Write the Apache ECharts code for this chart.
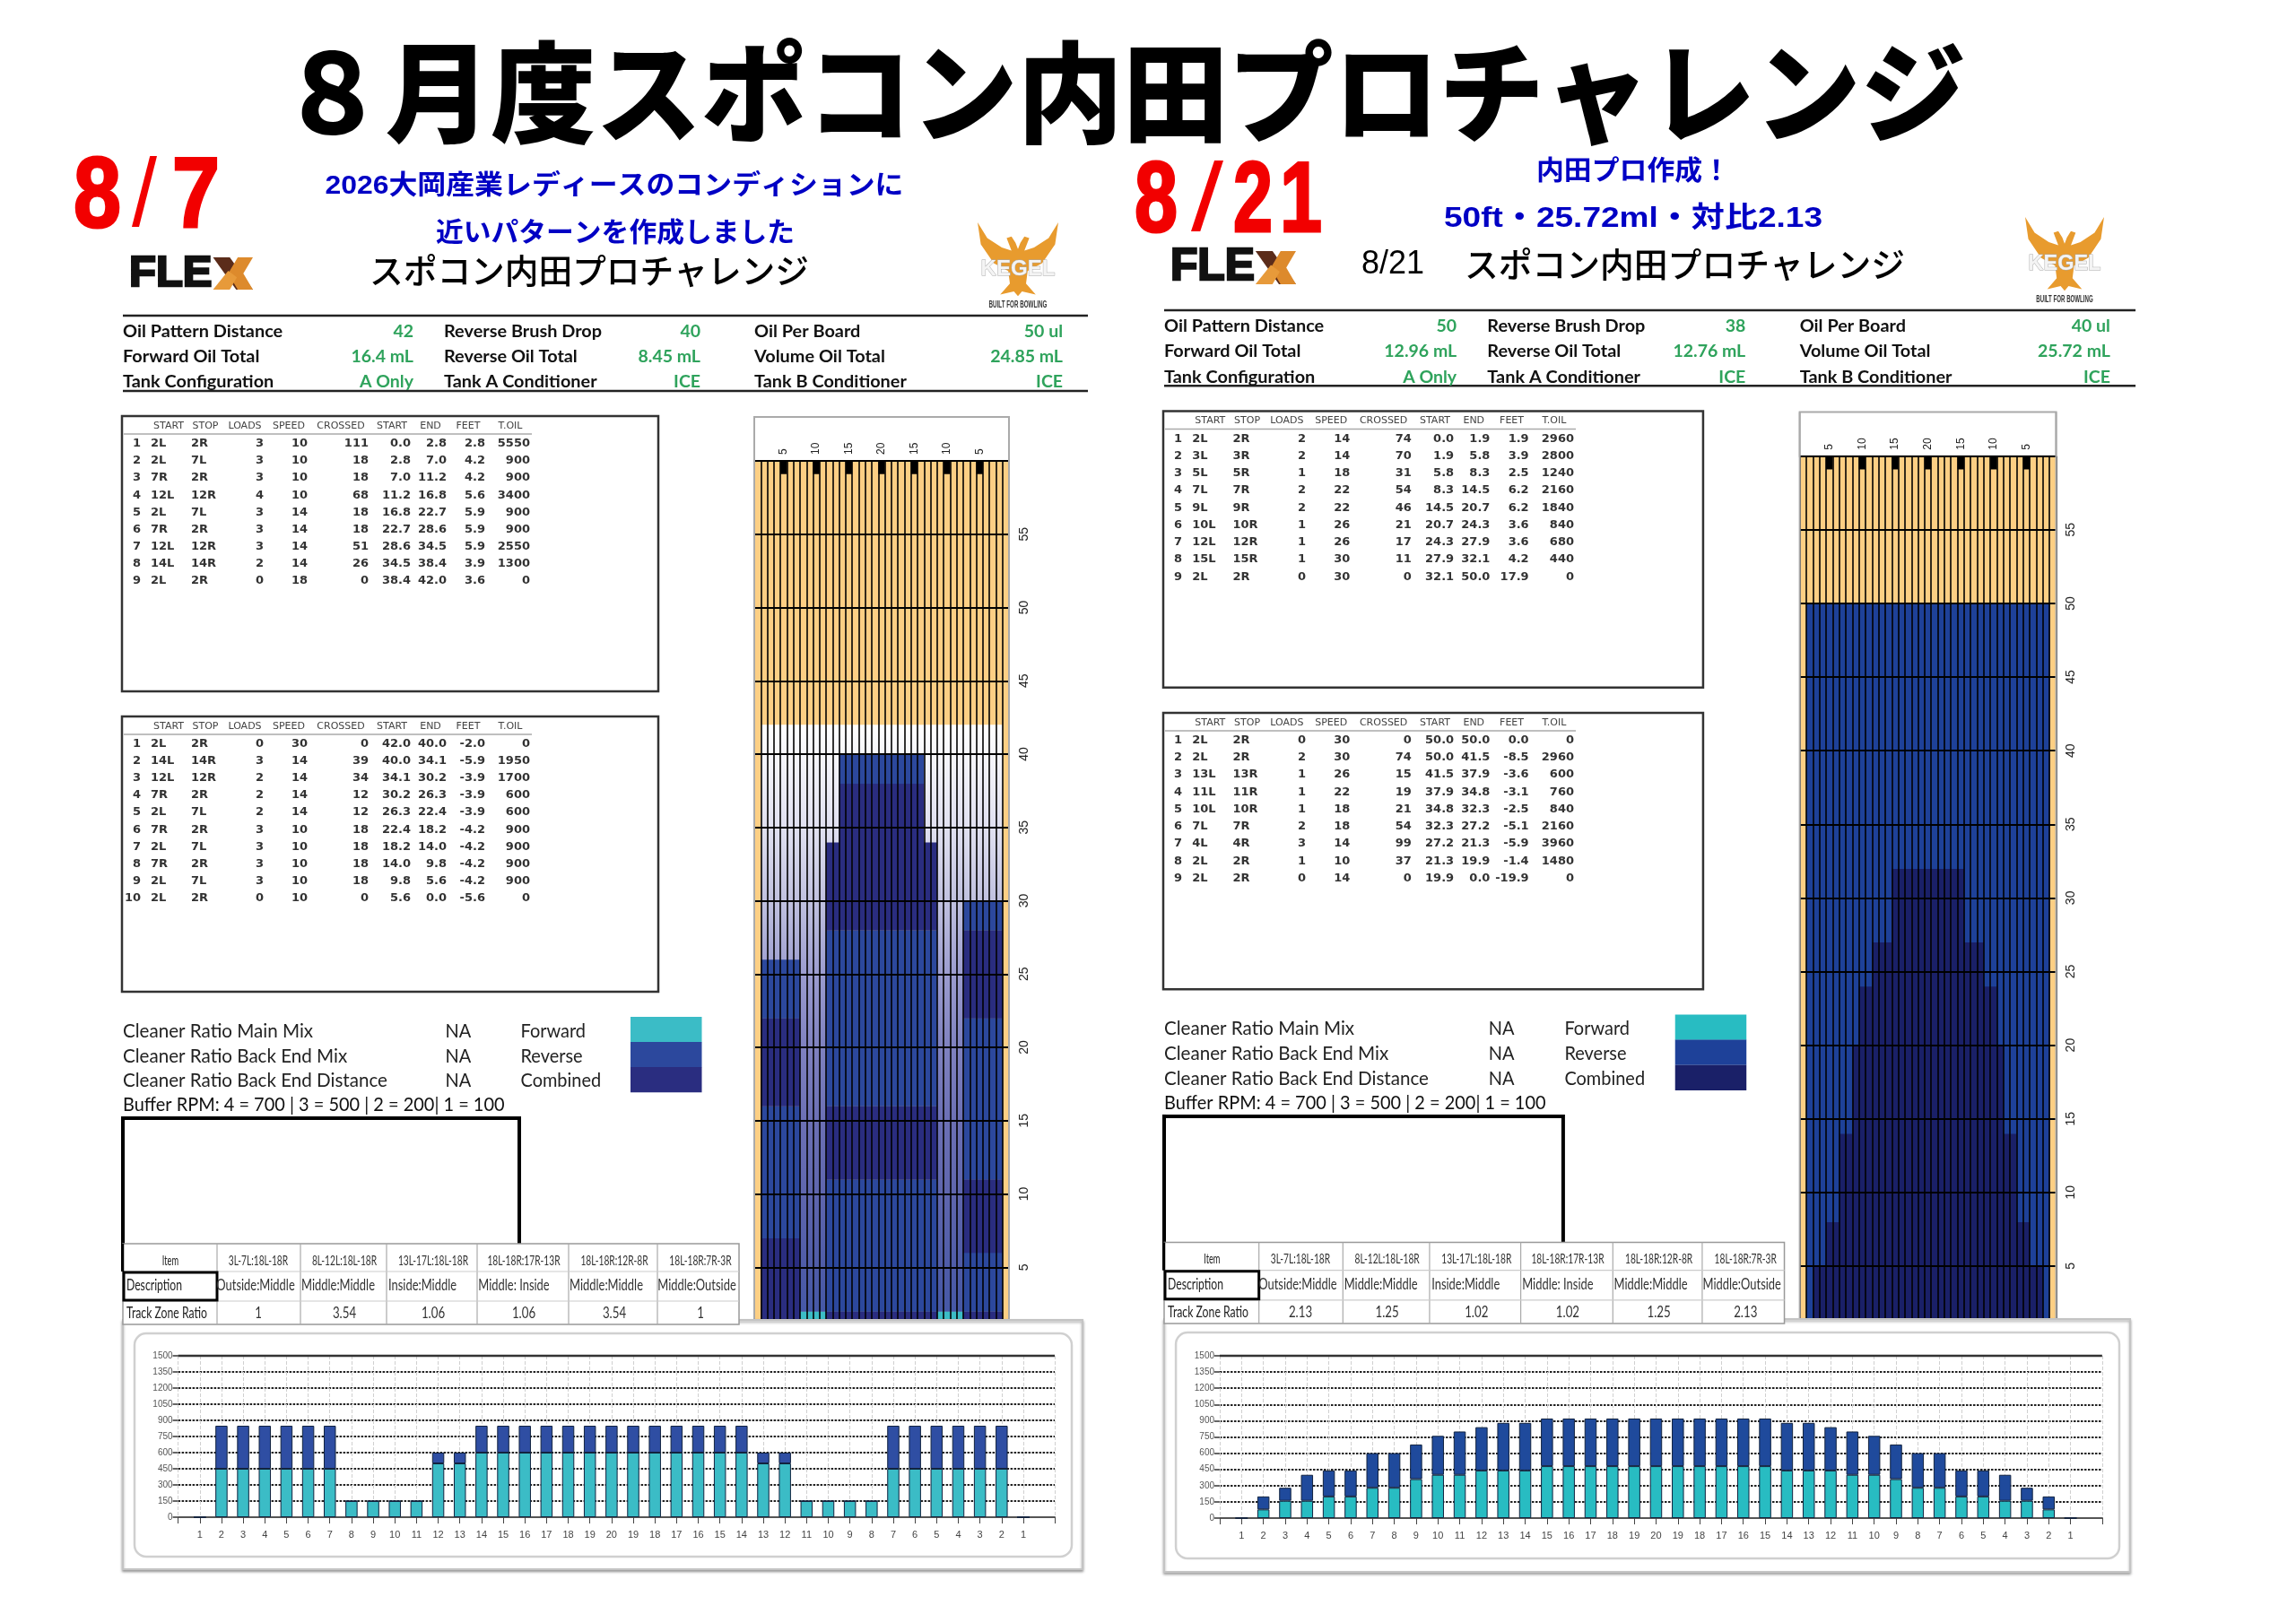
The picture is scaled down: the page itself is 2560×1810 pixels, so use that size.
<!DOCTYPE html>
<html><head><meta charset="utf-8">
<style>html,body{margin:0;padding:0;background:#fff}#c{width:2560px;height:1810px}</style>
<script src="https://cdn.jsdelivr.net/npm/echarts@6/dist/echarts.min.js"></script>
</head><body><div id="c"></div>
<script>
// ---------- DATA ----------
const mainTitle = '８月度スポコン内田プロチャレンジ';
const boardLabels = [1,2,3,4,5,6,7,8,9,10,11,12,13,14,15,16,17,18,19,20,19,18,17,16,15,14,13,12,11,10,9,8,7,6,5,4,3,2,1];
const arrowCells = [4,9,14,19,24,29,34];

const forward87 = [0,450,450,450,450,450,450,150,150,150,150,500,500,600,600,600,600,600,600,600,600,600,600,600,600,600,500,500,150,150,150,150,450,450,450,450,450,450,0];
const reverse87 = [0,400,400,400,400,400,400,0,0,0,0,100,100,250,250,250,250,250,250,250,250,250,250,250,250,250,100,100,0,0,0,0,400,400,400,400,400,400,0];
const forward821 = [0,80,160,160,200,200,280,280,360,400,400,440,440,440,480,480,480,480,480,480,480,480,480,480,480,440,440,440,400,400,360,280,280,200,200,160,160,80,0];
const reverse821 = [0,120,120,240,240,240,320,320,320,360,400,400,440,440,440,440,440,440,440,440,440,440,440,440,440,440,440,400,400,360,320,320,320,240,240,240,120,120,0];

// lane blocks: [first cell, last cell, [[from ft, to ft, kind], ...]]; F forward, R reverse, C combined, G fade
const lane87 = [
 [1,6,[[0,7,'C'],[7,16,'R'],[16,22,'C'],[22,26,'R'],[26,42,'G']]],
 [7,10,[[0,2,'F'],[2,42,'G']]],
 [11,12,[[0,2,'C'],[2,11,'R'],[11,16,'C'],[16,28,'R'],[28,34,'C'],[34,42,'G']]],
 [13,25,[[0,2,'C'],[2,11,'R'],[11,16,'C'],[16,28,'R'],[28,38,'C'],[38,40,'R'],[40,42,'G']]],
 [26,27,[[0,2,'C'],[2,11,'R'],[11,16,'C'],[16,28,'R'],[28,34,'C'],[34,42,'G']]],
 [28,31,[[0,2,'F'],[2,42,'G']]],
 [32,37,[[0,2,'C'],[2,6,'R'],[6,11,'C'],[11,22,'R'],[22,28,'C'],[28,30,'R'],[30,42,'G']]]
];
const lane821 = [
 [1,1,[[0,50,'R']]],[2,3,[[0,5,'C'],[5,50,'R']]],[4,5,[[0,8,'C'],[8,50,'R']]],[6,7,[[0,14,'C'],[14,50,'R']]],
 [8,8,[[0,20,'C'],[20,50,'R']]],[9,10,[[0,24,'C'],[24,50,'R']]],[11,13,[[0,27,'C'],[27,50,'R']]],[14,24,[[0,32,'C'],[32,50,'R']]],
 [25,27,[[0,27,'C'],[27,50,'R']]],[28,29,[[0,24,'C'],[24,50,'R']]],[30,30,[[0,20,'C'],[20,50,'R']]],[31,32,[[0,14,'C'],[14,50,'R']]],
 [33,34,[[0,8,'C'],[8,50,'R']]],[35,36,[[0,5,'C'],[5,50,'R']]],[37,37,[[0,50,'R']]]
];

const runHeader = ['START','STOP','LOADS','SPEED','CROSSED','START','END','FEET','T.OIL'];
const forwardRuns87 = [
 ['2L','2R',3,10,111,'0.0','2.8','2.8',5550],['2L','7L',3,10,18,'2.8','7.0','4.2',900],['7R','2R',3,10,18,'7.0','11.2','4.2',900],
 ['12L','12R',4,10,68,'11.2','16.8','5.6',3400],['2L','7L',3,14,18,'16.8','22.7','5.9',900],['7R','2R',3,14,18,'22.7','28.6','5.9',900],
 ['12L','12R',3,14,51,'28.6','34.5','5.9',2550],['14L','14R',2,14,26,'34.5','38.4','3.9',1300],['2L','2R',0,18,0,'38.4','42.0','3.6',0]];
const reverseRuns87 = [
 ['2L','2R',0,30,0,'42.0','40.0','-2.0',0],['14L','14R',3,14,39,'40.0','34.1','-5.9',1950],['12L','12R',2,14,34,'34.1','30.2','-3.9',1700],
 ['7R','2R',2,14,12,'30.2','26.3','-3.9',600],['2L','7L',2,14,12,'26.3','22.4','-3.9',600],['7R','2R',3,10,18,'22.4','18.2','-4.2',900],
 ['2L','7L',3,10,18,'18.2','14.0','-4.2',900],['7R','2R',3,10,18,'14.0','9.8','-4.2',900],['2L','7L',3,10,18,'9.8','5.6','-4.2',900],
 ['2L','2R',0,10,0,'5.6','0.0','-5.6',0]];
const forwardRuns821 = [
 ['2L','2R',2,14,74,'0.0','1.9','1.9',2960],['3L','3R',2,14,70,'1.9','5.8','3.9',2800],['5L','5R',1,18,31,'5.8','8.3','2.5',1240],
 ['7L','7R',2,22,54,'8.3','14.5','6.2',2160],['9L','9R',2,22,46,'14.5','20.7','6.2',1840],['10L','10R',1,26,21,'20.7','24.3','3.6',840],
 ['12L','12R',1,26,17,'24.3','27.9','3.6',680],['15L','15R',1,30,11,'27.9','32.1','4.2',440],['2L','2R',0,30,0,'32.1','50.0','17.9',0]];
const reverseRuns821 = [
 ['2L','2R',0,30,0,'50.0','50.0','0.0',0],['2L','2R',2,30,74,'50.0','41.5','-8.5',2960],['13L','13R',1,26,15,'41.5','37.9','-3.6',600],
 ['11L','11R',1,22,19,'37.9','34.8','-3.1',760],['10L','10R',1,18,21,'34.8','32.3','-2.5',840],['7L','7R',2,18,54,'32.3','27.2','-5.1',2160],
 ['4L','4R',3,14,99,'27.2','21.3','-5.9',3960],['2L','2R',1,10,37,'21.3','19.9','-1.4',1480],['2L','2R',0,14,0,'19.9','0.0','-19.9',0]];

const infoLabels = [['Oil Pattern Distance','Forward Oil Total','Tank Configuration'],['Reverse Brush Drop','Reverse Oil Total','Tank A Conditioner'],['Oil Per Board','Volume Oil Total','Tank B Conditioner']];
const infoValues87 = [['42','16.4 mL','A Only'],['40','8.45 mL','ICE'],['50 ul','24.85 mL','ICE']];
const infoValues821 = [['50','12.96 mL','A Only'],['38','12.76 mL','ICE'],['40 ul','25.72 mL','ICE']];
const cleanerLabels = ['Cleaner Ratio Main Mix','Cleaner Ratio Back End Mix','Cleaner Ratio Back End Distance'];
const legendLabels = ['Forward','Reverse','Combined'];
const bufferText = 'Buffer RPM: 4 = 700 | 3 = 500 | 2 = 200| 1 = 100';
const zoneItems = ['3L-7L:18L-18R','8L-12L:18L-18R','13L-17L:18L-18R','18L-18R:17R-13R','18L-18R:12R-8R','18L-18R:7R-3R'];
const zoneDesc = ['Outside:Middle','Middle:Middle','Inside:Middle','Middle: Inside','Middle:Middle','Middle:Outside'];
const zoneRatio87 = ['1','3.54','1.06','1.06','3.54','1'];
const zoneRatio821 = ['2.13','1.25','1.02','1.02','1.25','2.13'];

// ---------- LAYOUT ----------
const X = (p,x)=> p===0 ? x : 1298+(x-137)*1.0066;
const Y = (p,y)=> p===0 ? y : 346+(y-352)*1.0044;
const palette = [
 {F:'#3bbcc6',R:'#2c489d',C:'#2a2d80',barF:'#3bbcc6',barR:'#2f4ea3'},
 {F:'#28bcc2',R:'#1e4199',C:'#1a2068',barF:'#28bcc2',barR:'#1f4a9c'}
];
const fadeStops = [[0,'#ffffff'],[0.17,'#e0e0f0'],[0.29,'#bfc0df'],[0.41,'#9a9bcf'],[0.52,'#8082c0'],[0.64,'#6c70b5'],[0.76,'#5f66ae'],[0.88,'#4f5ca8'],[1,'#3f55a5']];
const axisFont='Liberation Sans';

const els = [];
const measure = document.createElement('canvas').getContext('2d');
function T(text,x,y,o={}){
  const size=o.size||14;
  const font=`${o.italic?'italic ':''}${o.weight||'normal'} ${size}px "${o.family||'Lato'}"`;
  let sx=o.sx||1;
  if(o.w){measure.font=font;sx=o.w/measure.measureText(text).width;}
  const align=o.align||'left';
  const st={text:String(text),font,fill:o.color||'#000',align,verticalAlign:'middle',textAlign:align,textVerticalAlign:'middle'};
  if(o.shadow){st.shadowBlur=o.shadow;st.shadowColor='rgba(0,0,0,0.45)';st.shadowOffsetX=3;st.shadowOffsetY=3;}
  if(o.stroke){st.stroke=o.stroke;st.lineWidth=o.lw||1;}
  els.push({type:'text',x,y,scaleX:sx,scaleY:o.sy||1,z:o.z||20,silent:true,style:st});
}
function R(x,y,w,h,o={}){
  els.push({type:'rect',z:o.z||10,silent:true,shape:{x,y,width:w,height:h,r:o.r||0},
    style:{fill:o.fill||'none',stroke:o.stroke||'none',lineWidth:o.lw||1,shadowBlur:o.sb||0,shadowColor:o.sc||'transparent',shadowOffsetY:o.so||0}});
}
function L(x1,y1,x2,y2,color,lw,z){
  els.push({type:'line',z:z||12,silent:true,shape:{x1,y1,x2,y2},style:{stroke:color,lineWidth:lw}});
}
function P(points,fill,z){
  els.push({type:'polygon',z:z||20,silent:true,shape:{points},style:{fill}});
}

function drawFlex(x,y,w,h){
  const fw=w*0.68;
  T('FLE',x+1,y+h/2,{size:h*1.36,weight:'900',family:'Liberation Sans',w:fw-2,color:'#111',stroke:'#111',lw:2.5});
  const xl=x+fw, xr=x+w;
  P([[xl,y],[xl+(xr-xl)*0.42,y],[xr,y+h],[xr-(xr-xl)*0.42,y+h]],'#5b2c1a');
  P([[xr,y],[xr-(xr-xl)*0.38,y],[xr-(xr-xl)*0.62,y+h*0.5],[xr-(xr-xl)*0.38,y+h],[xr,y+h],[xr-(xr-xl)*0.24,y+h*0.5]],'#dd8a2c');
  P([[xl,y+h],[xl+(xr-xl)*0.42,y+h],[xl+(xr-xl)*0.6,y+h*0.62],[xl+(xr-xl)*0.38,y+h*0.42]],'#e79a3a');
}
function drawKegel(x,y,w,h){
  const n=[[0,0],[.12,.2],[.3,.32],[.42,.36],[.36,.2],[.42,.18],[.47,.26],[.5,.34],[.53,.26],[.58,.18],[.64,.2],[.58,.36],[.7,.32],[.88,.2],[1,0],[.96,.28],[.8,.52],[.62,.62],[.6,.78],[.72,.92],[.55,.88],[.5,.94],[.45,.88],[.28,.92],[.4,.78],[.38,.62],[.2,.52],[.04,.28]];
  P(n.map(q=>[x+q[0]*w,y+q[1]*h*0.92]),'#e89b2e',18);
  T('KEGEL',x+w/2,y+h*0.55,{size:h*0.26,weight:'bold',family:'Liberation Sans',w:w*0.92,align:'center',color:'#f4f4f4',stroke:'#aaa',lw:1});
  T('BUILT FOR BOWLING',x+w/2,y+h*0.97,{size:10,weight:'bold',family:'Liberation Sans',w:w*0.72,align:'center',color:'#333'});
}
function bigDate(parts,cy){
  parts.forEach(q=>{
    const thin=q[0]==='/';
    T(q[0],(q[1]+q[2])/2,cy,{size:thin?108:112,weight:thin?'normal':'bold',family:'Liberation Sans',w:q[2]-q[1],align:'center',color:'#f20000',shadow:3,stroke:thin?undefined:'#f20000',lw:3});
  });
}

function drawRunTable(p,top,rowY,headerY,lineY,bottom,runs){
  R(X(p,136),Y(p,top),X(p,734)-X(p,136),Y(p,bottom)-Y(p,top),{stroke:'#333',lw:2.5,fill:'#fff',z:10});
  const hx=[188,229,273,322,380,437,480,522,569];
  runHeader.forEach((h,i)=>T(h,X(p,hx[i]),Y(p,headerY),{size:11,family:'DejaVu Sans',color:'#444',align:'center'}));
  L(X(p,138),Y(p,lineY),X(p,593),Y(p,lineY),'#aaa',1.5);
  const colX=[168,213,294,343,411,458,498,541,591];
  runs.forEach((r,k)=>{
    const yy=Y(p,rowY+k*19.15);
    T(k+1,X(p,157),yy,{size:13,weight:'bold',family:'DejaVu Sans',color:'#333',align:'right'});
    r.forEach((v,i)=>T(v,X(p,colX[i]),yy,{size:13,weight:'bold',family:'DejaVu Sans',color:'#333',align:i<2?'left':'right'}));
  });
}

function drawPanel(p,infoValues,ratio){
  const col=palette[p];
  // info block
  L(X(p,137),Y(p,352),X(p,1213),Y(p,352),'#222',2.5);
  L(X(p,137),Y(p,436),X(p,1213),Y(p,436),'#222',2.5);
  const labelX=[137,495,841], valueX=[461,781,1185], rowY=[370,398,426];
  infoLabels.forEach((c,i)=>c.forEach((t,j)=>{
    T(t,X(p,labelX[i]),Y(p,rowY[j]),{size:19.5,weight:'bold',sx:1.02,color:'#111'});
    T(infoValues[i][j],X(p,valueX[i]),Y(p,rowY[j]),{size:19.5,weight:'bold',sx:1.0,color:'#2fa35c',align:'right'});
  }));
  // run tables
  drawRunTable(p,464,494.7,475,484,771,p===0?forwardRuns87:forwardRuns821);
  drawRunTable(p,799,829.5,810,819,1106,p===0?reverseRuns87:reverseRuns821);
  // cleaner block
  const cy=[1150,1178,1205];
  cleanerLabels.forEach((t,i)=>{
    T(t,X(p,137),Y(p,cy[i]),{size:21,sx:0.98,color:'#222'});
    T('NA',X(p,496.5),Y(p,cy[i]),{size:21,sx:0.95,color:'#222'});
    T(legendLabels[i],X(p,580.5),Y(p,cy[i]),{size:21,sx:0.95,color:'#222'});
  });
  T(bufferText,X(p,137),Y(p,1232),{size:21,sx:0.95,color:'#111'});
  ['F','R','C'].forEach((k,i)=>R(X(p,703),Y(p,1134+28*i),79.5,28.2,{fill:col[k],z:11}));
  // blank box
  L(X(p,137),Y(p,1247),X(p,579),Y(p,1247),'#000',4,9);
  L(X(p,137),Y(p,1245),X(p,137),Y(p,1418),'#000',4,9);
  L(X(p,579),Y(p,1245),X(p,579),Y(p,1388),'#000',4,9);
  // chart frame (white header of lane and outer card of bars)
  R(X(p,841),Y(p,465),X(p,1125)-X(p,841),Y(p,514)-Y(p,465),{stroke:'#aaa',lw:2,fill:'#fff',z:1});
  L(X(p,841),Y(p,465),X(p,841),Y(p,1472),'#aaa',2,4);
  L(X(p,1125),Y(p,465),X(p,1125),Y(p,1472),'#aaa',2,4);
  const oy=Y(p,1472), by=p===0?1750:1753;
  R(X(p,137),oy,X(p,1207)-X(p,137),by-oy,{fill:'#fff',stroke:'#c4c4c4',lw:2,z:4,sb:3,sc:'rgba(0,0,0,.35)',so:2});
  const iy=p===0?1487:1486, iby=p===0?1736:1738;
  R(X(p,150),iy,X(p,1195)-X(p,150),iby-iy,{fill:'#fff',stroke:'#d0d0d0',lw:2.5,r:13,z:4});
  // zone table
  const ty=[1387,1418,1451,1477], colLines=[137,242,335,431,532,634,733,824];
  R(X(p,137),Y(p,1387),X(p,824)-X(p,137),Y(p,1477)-Y(p,1387),{fill:'#fff',stroke:'#999',lw:1.5,z:10});
  colLines.slice(1,-1).forEach(x=>L(X(p,x),Y(p,1387),X(p,x),Y(p,1477),'#aaa',1.2));
  [1,2].forEach(i=>L(X(p,137),Y(p,ty[i]),X(p,824),Y(p,ty[i]),'#ccc',1.2));
  R(X(p,138),Y(p,1419),X(p,242)-X(p,138),Y(p,1450)-Y(p,1419),{stroke:'#000',lw:3,z:13});
  L(X(p,137),Y(p,1387),X(p,137),Y(p,1418),'#000',2.5,13);
  T('Item',X(p,190),Y(p,1406),{size:15,sx:0.62,color:'#222',align:'center'});
  T('Description',X(p,141),Y(p,1434),{w:62,size:17,color:'#222'});
  T('Track Zone Ratio',X(p,141),Y(p,1465),{w:90,size:17,color:'#222'});
  const cI=[288,384,483,584,685,781], cD=[285,377,471,573,676,777], cR=[288,384,483,584,685,781];
  zoneItems.forEach((t,i)=>T(t,X(p,cI[i]),Y(p,1406),{size:15,sx:0.68,color:'#333',align:'center'}));
  zoneDesc.forEach((t,i)=>T(t,X(p,cD[i]),Y(p,1434),{size:17,sx:0.76,color:'#333',align:'center'}));
  ratio.forEach((t,i)=>T(t,X(p,cR[i]),Y(p,1465),{size:17,sx:0.78,color:'#333',align:'center'}));
}

// page title + headings
T(mainTitle,1252,103,{size:122,weight:'800',family:'Noto Sans CJK JP',w:1880,align:'center',color:'#000',shadow:5});
bigDate([['8',82,135],['/',147,175],['7',192,245]],222);
bigDate([['8',1265,1313],['/',1328,1364],['2',1375,1419],['1',1427,1474]],227);
const blue={weight:'bold',family:'Liberation Sans","Noto Sans CJK JP',align:'center',color:'#0000c4'};
T('2026大岡産業レディースのコンディションに',685,208,{...blue,size:30,w:645});
T('近いパターンを作成しました',686,261,{...blue,size:30,w:400});
T('内田プロ作成！',1821,192,{...blue,size:30,w:216});
T('50ft・25.72ml・対比2.13',1821,244,{...blue,size:32,w:422});
T('スポコン内田プロチャレンジ',657,302,{size:38,weight:'500',family:'Noto Sans CJK JP',w:490,align:'center',color:'#000'});
T('8/21',1518,295,{size:36,family:'Liberation Sans',w:70,color:'#000'});
T('スポコン内田プロチャレンジ',1633,295,{size:38,weight:'500',family:'Noto Sans CJK JP',w:491,color:'#000'});
drawFlex(143,287,139,36);
drawFlex(1304,280,141,37);
drawKegel(1090,248,90,95);
drawKegel(2258,242,88,95);

drawPanel(0,infoValues87,zoneRatio87);
drawPanel(1,infoValues821,zoneRatio821);

// ---------- CHART OPTION ----------
function expandLane(blocks){
  const out=[];
  blocks.forEach(b=>{for(let c=b[0];c<=b[1];c++)b[2].forEach(s=>out.push([c,s[0],s[1],s[2]]));});
  return out;
}
function laneRender(p){
  return function(params,api){
    const c=api.value(0), y0=api.value(1), y1=api.value(2), kind=api.value(3);
    const a=api.coord([c,y0]), b=api.coord([c,y1]), w=api.size([1,0])[0];
    let fill=palette[p][kind];
    if(kind==='G'){
      const t=api.coord([c,42])[1], e=api.coord([c,0])[1];
      fill={type:'linear',x:0,y:t,x2:0,y2:e,global:true,colorStops:fadeStops.map(s=>({offset:s[0],color:s[1]}))};
    }
    return {type:'rect',shape:{x:a[0]-w/2,y:b[1],width:w+0.4,height:a[1]-b[1]+0.4},style:{fill}};
  };
}
function arrowRender(params,api){
  const c=api.value(0),a=api.coord([c,60]),b=api.coord([c,59.1]),w=api.size([1,0])[0];
  return {type:'rect',shape:{x:a[0]-w/2,y:a[1],width:w,height:b[1]-a[1]},style:{fill:'#000'}};
}
const grids=[],xA=[],yA=[],series=[];
[0,1].forEach(p=>{
  const l=X(p,841),r=X(p,1125),t=Y(p,514),b=Y(p,1495);
  grids.push({left:l,top:t,width:r-l,height:b-t,show:true,backgroundColor:'#fdcf84',borderWidth:0});
  xA.push({type:'category',gridIndex:p,position:'top',data:boardLabels.map(String),boundaryGap:true,z:3,
    axisLine:{show:true,lineStyle:{color:'#000',width:2}},axisTick:{show:false},
    splitLine:{show:true,interval:0,lineStyle:{color:'#000',width:1.6}},
    axisLabel:{interval:(i,v)=>(+v%5===0),rotate:90,margin:7,fontSize:12,fontFamily:axisFont,color:'#222'}});
  yA.push({type:'value',gridIndex:p,position:'right',min:0,max:60,interval:5,z:3,
    axisLine:{show:false},axisTick:{show:false},
    splitLine:{show:true,lineStyle:{color:'#000',width:1.8}},
    axisLabel:{showMinLabel:false,showMaxLabel:false,rotate:90,margin:10,fontSize:14,fontFamily:axisFont,color:'#222'}});
  series.push({type:'custom',xAxisIndex:p,yAxisIndex:p,z:2,silent:true,clip:false,
    encode:{x:0,y:[1,2]},data:expandLane(p===0?lane87:lane821),renderItem:laneRender(p)});
  series.push({type:'custom',xAxisIndex:p,yAxisIndex:p,z:3,silent:true,
    encode:{x:0,y:1},data:arrowCells.map(c=>[c,60]),renderItem:arrowRender});
});
const barTicks=[0,...boardLabels.map((_,i)=>i+1),40.45];
[0,1].forEach(p=>{
  const g=2+p, l=X(p,198.6), r=X(p,1176), t=1512, b=p===0?1692:1693;
  const fwd=p===0?forward87:forward821, rev=p===0?reverse87:reverse821;
  grids.push({left:l,top:t,width:r-l,height:b-t});
  xA.push({type:'value',gridIndex:g,min:0,max:40.45,z:6,
    axisLine:{show:true,onZero:false,lineStyle:{color:'#555',width:2}},
    axisTick:{show:true,length:7,customValues:barTicks,lineStyle:{color:'#444',width:1}},
    splitLine:{show:true,customValues:barTicks,lineStyle:{color:'#d0d0d0',type:'dashed',width:1}},
    axisLabel:{margin:14,fontSize:11,fontFamily:axisFont,color:'#444',customValues:boardLabels.map((_,i)=>i+1),
      formatter:v=>boardLabels[v-1]===undefined?'':String(boardLabels[v-1])}});
  yA.push({type:'value',gridIndex:g,min:0,max:1500,interval:150,z:6,
    axisLine:{show:false},axisTick:{show:true,length:6,lineStyle:{color:'#666',width:2}},
    splitLine:{show:true,lineStyle:{color:'#222',type:[2.5,1.5],width:2.2}},
    axisLabel:{margin:6,fontSize:10,fontFamily:axisFont,color:'#555',formatter:v=>String(v)}});
  const bs=(data,color,name)=>({type:'bar',name,stack:'s'+p,xAxisIndex:g,yAxisIndex:g,z:8,barWidth:13.5,silent:true,
    encode:{x:1,y:0},dimensions:['oil','board'],
    data:data.map((v,i)=>[v,i+1]),itemStyle:{color,borderColor:'#12233f',borderWidth:1}});
  series.push(bs(fwd,palette[p].barF,'Forward'));
  series.push(bs(rev,palette[p].barR,'Reverse'));
  // solid top frame of the plot
  els.push({type:'line',z:9,silent:true,shape:{x1:l,y1:t,x2:r,y2:t},style:{stroke:'#333',lineWidth:2.5}});
});
const chart=echarts.init(document.getElementById('c'),null,{width:2560,height:1810,renderer:'canvas'});
chart.setOption({animation:false,backgroundColor:'#fff',tooltip:{show:false},grid:grids,xAxis:xA,yAxis:yA,series,graphic:{elements:els}});
</script></body></html>
